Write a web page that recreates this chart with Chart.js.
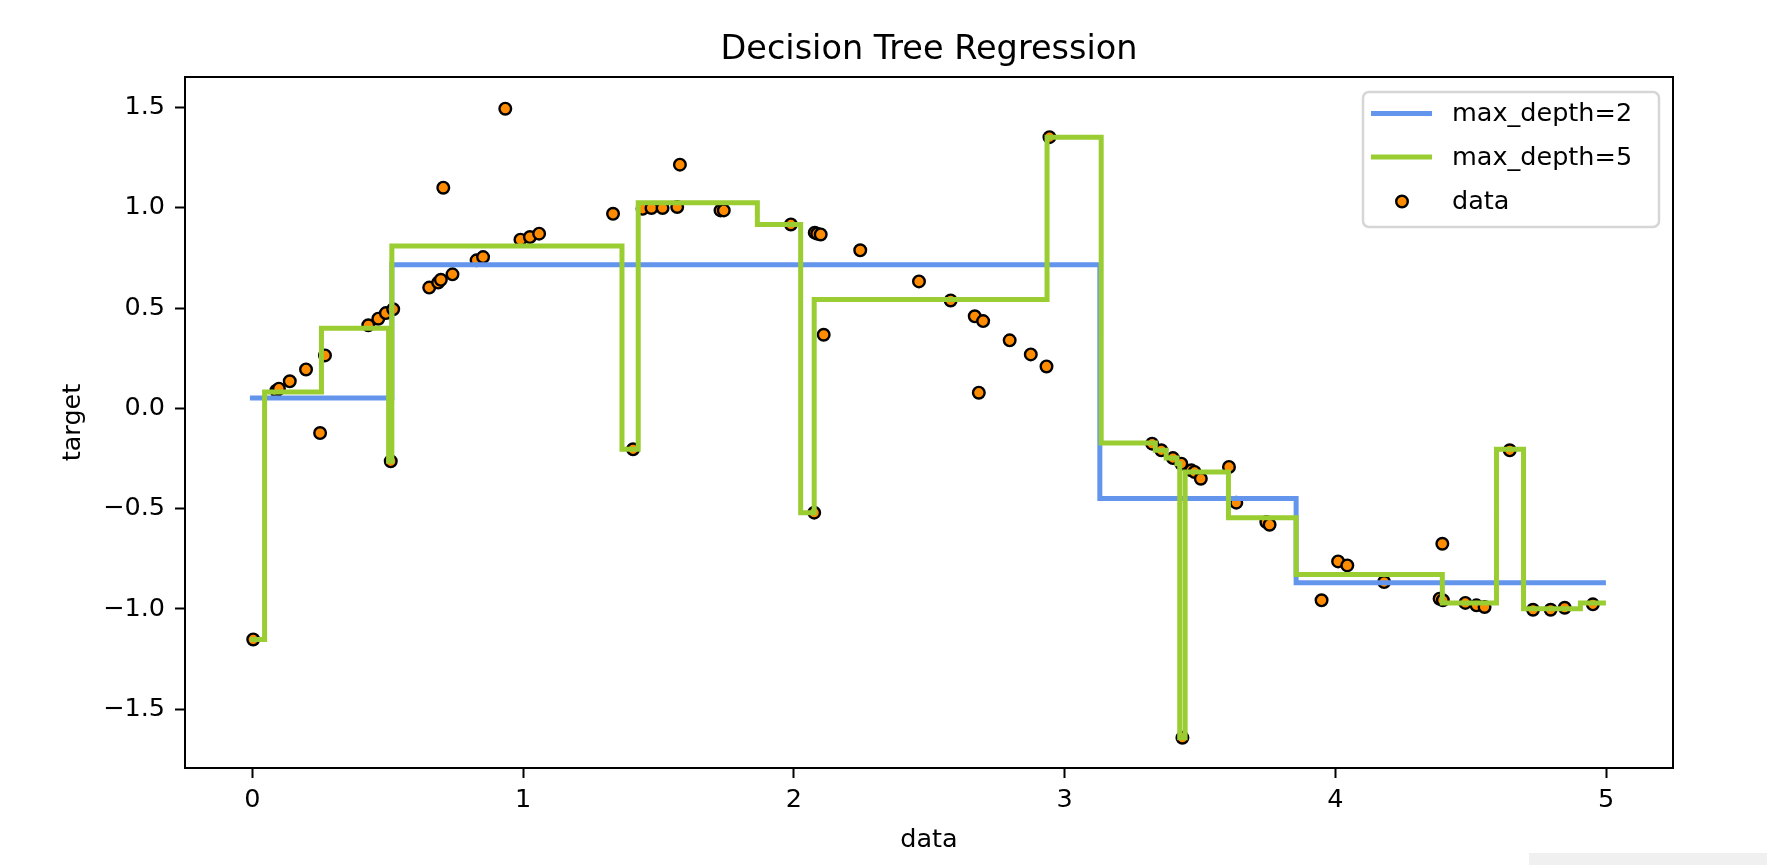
<!DOCTYPE html>
<html>
<head>
<meta charset="utf-8">
<script src="https://cdn.jsdelivr.net/npm/chart.js@4/dist/chart.umd.min.js"></script>
<style>
  html, body { margin: 0; padding: 0; background: #fff; }
  #wrap { position: relative; width: 1767px; height: 865px; }
  #corner { position: absolute; left: 1529px; top: 853px; width: 238px; height: 12px; background: #f0f0f0; }
</style>
</head>
<body>
<div id="wrap">
  <canvas id="tree-chart" width="1767" height="865"></canvas>
  <div id="corner"></div>
</div>
<script>
// noisy sine samples
let dataX = [0.003, 0.088, 0.098, 0.138, 0.198, 0.250, 0.268, 0.428, 0.465, 0.493, 0.511, 0.520, 0.653, 0.686, 0.696, 0.705, 0.739, 0.828, 0.852, 0.934, 0.990, 1.025, 1.059, 1.332, 1.406, 1.441, 1.474, 1.515, 1.569, 1.579, 1.729, 1.741, 1.989, 2.075, 2.077, 2.086, 2.099, 2.110, 2.245, 2.462, 2.579, 2.668, 2.683, 2.699, 2.797, 2.875, 2.933, 2.944, 3.323, 3.357, 3.400, 3.431, 3.435, 3.468, 3.480, 3.503, 3.607, 3.634, 3.745, 3.757, 3.949, 4.010, 4.044, 4.180, 4.385, 4.395, 4.397, 4.480, 4.521, 4.551, 4.644, 4.730, 4.795, 4.847, 4.951]
let dataY = [-1.152, 0.088, 0.098, 0.135, 0.194, -0.123, 0.264, 0.414, 0.447, 0.475, -0.264, 0.494, 0.602, 0.627, 0.641, 1.100, 0.668, 0.738, 0.754, 1.494, 0.841, 0.854, 0.871, 0.970, -0.204, 0.995, 0.999, 0.999, 1.004, 1.215, 0.987, 0.987, 0.917, -0.520, 0.876, 0.871, 0.867, 0.367, 0.788, 0.633, 0.538, 0.459, 0.078, 0.435, 0.339, 0.269, 0.209, 1.352, -0.176, -0.209, -0.248, -0.276, -1.642, -0.309, -0.317, -0.351, -0.292, -0.470, -0.567, -0.580, -0.957, -0.763, -0.783, -0.866, -0.949, -0.675, -0.957, -0.970, -0.982, -0.990, -0.209, -1.004, -1.004, -0.994, -0.977]

// tree predictions: x where each step starts, and the value from there on
let depth2X = [0, 0.515, 3.13, 3.855, 4.99]
let depth2Y = [0.052, 0.716, -0.450, -0.869, -0.869]

let depth5X = [0, 0.045, 0.255, 0.503, 0.515, 1.365, 1.425, 1.865, 2.025, 2.075, 2.935, 3.135, 3.335, 3.375, 3.415, 3.425, 3.445, 3.605, 3.855, 4.395, 4.595, 4.695, 4.905, 4.99]
let depth5Y = [-1.152, 0.081, 0.400, -0.264, 0.809, -0.204, 1.025, 0.917, -0.520, 0.543, 1.352, -0.173, -0.209, -0.248, -0.276, -1.642, -0.317, -0.545, -0.828, -0.970, -0.204, -0.999, -0.970, -0.970]

let xTicks = [0, 1, 2, 3, 4, 5]
let yTicks = [-1.5, -1.0, -0.5, 0.0, 0.5, 1.0, 1.5]

let seriesNames = ['max_depth=2', 'max_depth=5', 'data']

function toPoints(xs, ys) {
    return xs.map((x, i) => ({x: x, y: ys[i]}))
}

// matplotlib style minus sign
function fmt(v, digits) {
    let s = Math.abs(v).toFixed(digits)
    return v < 0 ? '\u2212' + s : s
}

const FONT = 'DejaVu Sans'
Chart.defaults.font.family = FONT
Chart.defaults.font.size = 25.5
Chart.defaults.color = '#000'

// title, axis labels, frame and legend drawn by hand to match matplotlib
let decorPlugin = {
    id: 'decor',
    afterDatasetsDraw(chart) {
        let ctx = chart.ctx
        let a = chart.chartArea
        ctx.save()
        ctx.strokeStyle = '#000'
        ctx.lineWidth = 2
        ctx.strokeRect(a.left, a.top, a.right - a.left, a.bottom - a.top)

        ctx.fillStyle = '#000'
        ctx.font = '33.5px "' + FONT + '"'
        ctx.textAlign = 'center'
        ctx.textBaseline = 'alphabetic'
        ctx.fillText('Decision Tree Regression', (a.left + a.right) / 2, 59)

        ctx.font = '25.5px "' + FONT + '"'
        ctx.fillText('data', (a.left + a.right) / 2, 847)

        ctx.save()
        ctx.translate(80, (a.top + a.bottom) / 2)
        ctx.rotate(-Math.PI / 2)
        ctx.fillText('target', 0, 0)
        ctx.restore()

        // legend
        let lx = 1363, ly = 92, lw = 296, lh = 135, r = 6
        ctx.beginPath()
        ctx.roundRect(lx, ly, lw, lh, r)
        ctx.fillStyle = 'rgba(255,255,255,0.8)'
        ctx.fill()
        ctx.strokeStyle = '#d6d6d6'
        ctx.lineWidth = 2.5
        ctx.stroke()

        let rows = [113.5, 157, 201.5]
        let ds = chart.data.datasets
        ctx.lineWidth = 5
        ctx.lineCap = 'butt'
        for (let i = 0; i < 2; i++) {
            ctx.strokeStyle = ds[i].borderColor
            ctx.beginPath()
            ctx.moveTo(1371, rows[i])
            ctx.lineTo(1432, rows[i])
            ctx.stroke()
        }
        ctx.beginPath()
        ctx.arc(1402, rows[2], 5.8, 0, Math.PI * 2)
        ctx.fillStyle = ds[2].backgroundColor
        ctx.fill()
        ctx.lineWidth = 2.4
        ctx.strokeStyle = ds[2].borderColor
        ctx.stroke()

        ctx.fillStyle = '#000'
        ctx.textAlign = 'left'
        ctx.textBaseline = 'middle'
        seriesNames.forEach((name, i) => ctx.fillText(name, 1452, rows[i] + 1))
        ctx.restore()
    }
}

let ctx = document.getElementById('tree-chart').getContext('2d')
let treeChart = new Chart(ctx, {
    type: 'scatter',
    data: {
        datasets: [
            {
                type: 'line',
                label: seriesNames[0],
                data: toPoints(depth2X, depth2Y),
                borderColor: 'cornflowerblue',
                borderWidth: 5,
                borderCapStyle: 'square',
                stepped: 'before',
                pointRadius: 0,
                fill: false,
                order: 2
            },
            {
                type: 'line',
                label: seriesNames[1],
                data: toPoints(depth5X, depth5Y),
                borderColor: 'yellowgreen',
                borderWidth: 5,
                borderCapStyle: 'square',
                stepped: 'before',
                pointRadius: 0,
                fill: false,
                order: 1
            },
            {
                label: seriesNames[2],
                data: toPoints(dataX, dataY),
                backgroundColor: 'darkorange',
                borderColor: '#000',
                borderWidth: 2.4,
                pointRadius: 5.8,
                order: 3
            }
        ]
    },
    options: {
        responsive: false,
        animation: false,
        events: [],
        layout: {padding: {top: 77, right: 94, left: 0, bottom: 0}},
        plugins: {legend: {display: false}, tooltip: {enabled: false}, title: {display: false}},
        scales: {
            x: {
                type: 'linear',
                min: -0.249,
                max: 5.247,
                afterFit: s => { s.height = 97 },
                afterBuildTicks: s => { s.ticks = xTicks.map(v => ({value: v})) },
                border: {display: false},
                grid: {drawOnChartArea: false, drawTicks: true, tickLength: 10, tickWidth: 2, tickColor: '#000'},
                ticks: {padding: 7, maxRotation: 0, autoSkip: false, callback: v => fmt(v, 0)}
            },
            y: {
                type: 'linear',
                min: -1.793,
                max: 1.652,
                afterFit: s => { s.width = 185 },
                afterBuildTicks: s => { s.ticks = yTicks.map(v => ({value: v})) },
                border: {display: false},
                grid: {drawOnChartArea: false, drawTicks: true, tickLength: 10, tickWidth: 2, tickColor: '#000'},
                ticks: {padding: 10, autoSkip: false, callback: v => fmt(v, 1)}
            }
        }
    },
    plugins: [decorPlugin]
})
</script>
</body>
</html>
